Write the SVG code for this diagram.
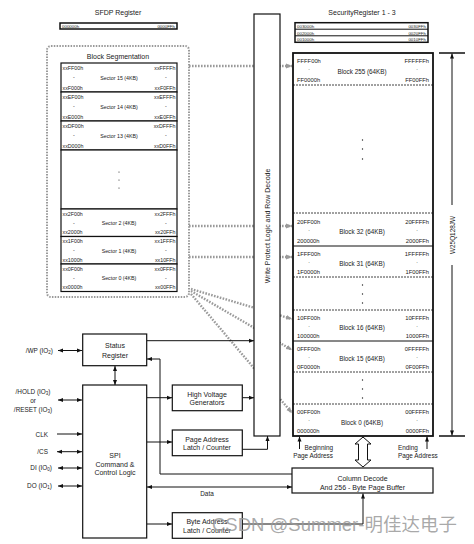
<svg xmlns="http://www.w3.org/2000/svg" width="474" height="544" viewBox="0 0 474 544">
<style>
text{font-family:"Liberation Sans",Arial,"Noto Sans CJK SC",sans-serif;fill:#1a1a1a}
.l7{font-size:7px}
.l65{font-size:6.4px}
.a{font-size:5.8px}
.bl{font-size:6.3px}
.s{font-size:5.3px}
.t{font-size:4.4px}
.m{text-anchor:middle}
.e{text-anchor:end}
.box{fill:#fff;stroke:#111;stroke-width:1.2}
.thk{fill:#fff;stroke:#111;stroke-width:1.8}
.ln{fill:none;stroke:#111;stroke-width:1}
.gd{fill:none;stroke:#9a9a9a;stroke-width:2.4;stroke-dasharray:1.6 1.4}
.dash{fill:none;stroke:#111;stroke-width:0.8;stroke-dasharray:2 1}
.dt{fill:#222}
</style>
<defs>
<marker id="ah" viewBox="0 0 10 10" refX="10" refY="5" markerWidth="6" markerHeight="5" markerUnits="userSpaceOnUse" orient="auto-start-reverse"><path d="M0,1 L10,5 L0,9 z" fill="#111"/></marker>
<marker id="gh" viewBox="0 0 10 10" refX="10" refY="5" markerWidth="6" markerHeight="6" markerUnits="userSpaceOnUse" orient="auto"><path d="M0,1 L10,5 L0,9 z" fill="#9a9a9a"/></marker>
</defs>

<g id="connectors">
<g id="dotted">
<path class="gd" d="M189,66 H292" marker-end="url(#gh)"/>
<path class="gd" d="M189,226 H292" marker-end="url(#gh)"/>
<path class="gd" d="M189,257 H292" marker-end="url(#gh)"/>
<path class="gd" d="M191,289 L292,319" marker-end="url(#gh)"/>
<path class="gd" d="M191,291 L292,350" marker-end="url(#gh)"/>
<path class="gd" d="M191,294 L292,413" marker-end="url(#gh)"/>
</g>
<g id="wires">
<path class="ln" d="M58,350.5 H82" marker-start="url(#ah)" marker-end="url(#ah)"/>
<path class="ln" d="M58,400 H82" marker-start="url(#ah)" marker-end="url(#ah)"/>
<path class="ln" d="M57,434 H82" marker-end="url(#ah)"/>
<path class="ln" d="M57,451.7 H82" marker-start="url(#ah)" marker-end="url(#ah)"/>
<path class="ln" d="M58,468 H82" marker-start="url(#ah)" marker-end="url(#ah)"/>
<path class="ln" d="M58,486 H82" marker-start="url(#ah)" marker-end="url(#ah)"/>
<path class="ln" d="M115,366 V385" marker-start="url(#ah)" marker-end="url(#ah)"/>
<path class="ln" d="M147,340.7 H254" marker-end="url(#ah)"/>
<path class="ln" d="M147,397.7 H172" marker-end="url(#ah)"/>
<path class="ln" d="M242,397.7 H254" marker-end="url(#ah)"/>
<path class="ln" d="M147,442 H172" marker-end="url(#ah)"/>
<path class="ln" d="M242,449.3 H267.5 V436" marker-end="url(#ah)"/>
<path class="ln" d="M292,474 H160 V359 H147" marker-end="url(#ah)"/>
<path class="ln" d="M147,487 H292" marker-start="url(#ah)" marker-end="url(#ah)"/>
<path class="ln" d="M147,524 H172" marker-end="url(#ah)"/>
<path class="ln" d="M242,524 H363 V493.5" marker-end="url(#ah)"/>
<path class="ln" d="M299.5,449 V436.5" marker-end="url(#ah)"/>
<path class="ln" d="M427,449 V436.5" marker-end="url(#ah)"/>
<path class="ln" d="M452,205 V53.5" marker-end="url(#ah)"/>
<path class="ln" d="M452,265 V435.5" marker-end="url(#ah)"/>
<path fill="none" stroke="#111" stroke-width="1.6" d="M439,53 H465 M439,436 H465"/>
<polygon points="363,437 371,444 367.5,444 367.5,460 371,460 363,467 355,460 358.5,460 358.5,444 355,444" fill="#fff" stroke="#111" stroke-width="1"/>
</g>
</g>

<g id="sfdp">
<text class="l7 m" x="118" y="14.5">SFDP Register</text>
<rect x="60" y="23" width="117" height="6" fill="#fff" stroke="#111" stroke-width="1.5"/>
<text class="t" x="62" y="27.8">000000h</text>
<text class="t e" x="175" y="27.8">0000FFh</text>
</g>

<g id="security">
<text class="l7 m" x="362" y="14.5">SecurityRegister 1 - 3</text>
<rect x="295" y="22.7" width="133" height="19.6" fill="#fff" stroke="#111" stroke-width="1.5"/>
<path stroke="#111" stroke-width="1" d="M295,29.2 H428 M295,35.8 H428"/>
<text class="t" x="297" y="28">003000h</text><text class="t e" x="426" y="28">0030FFh</text>
<text class="t" x="297" y="34.5">002000h</text><text class="t e" x="426" y="34.5">0020FFh</text>
<text class="t" x="297" y="41">001000h</text><text class="t e" x="426" y="41">0010FFh</text>
</g>

<g id="block-segmentation">
<rect x="47" y="46" width="142" height="251" rx="4" fill="none" stroke="#9a9a9a" stroke-width="2" stroke-dasharray="1.5 1.3"/>
<text class="l7 m" x="118" y="59">Block Segmentation</text>
<g id="sector15"><rect class="box" x="61" y="63" width="116" height="29"/>
<text class="s" x="62.5" y="69.5">xxFF00h</text><text class="s m" x="74" y="79">-</text><text class="s" x="62.5" y="89.5">xxF000h</text>
<text class="s m" x="119" y="80">Sector 15 (4KB)</text>
<text class="s e" x="175.5" y="69.5">xxFFFFh</text><text class="s m" x="166" y="79">-</text><text class="s e" x="175.5" y="89.5">xxF0FFh</text></g>
<g id="sector14"><rect class="box" x="61" y="92" width="116" height="29"/>
<text class="s" x="62.5" y="98.5">xxEF00h</text><text class="s m" x="74" y="108">-</text><text class="s" x="62.5" y="118.5">xxE000h</text>
<text class="s m" x="119" y="109">Sector 14 (4KB)</text>
<text class="s e" x="175.5" y="98.5">xxEFFFh</text><text class="s m" x="166" y="108">-</text><text class="s e" x="175.5" y="118.5">xxE0FFh</text></g>
<g id="sector13"><rect class="box" x="61" y="121" width="116" height="29"/>
<text class="s" x="62.5" y="127.5">xxDF00h</text><text class="s m" x="74" y="137">-</text><text class="s" x="62.5" y="147.5">xxD000h</text>
<text class="s m" x="119" y="138">Sector 13 (4KB)</text>
<text class="s e" x="175.5" y="127.5">xxDFFFh</text><text class="s m" x="166" y="137">-</text><text class="s e" x="175.5" y="147.5">xxD0FFh</text></g>
<g id="sector-gap"><rect class="box" x="61" y="150" width="116" height="59"/>
<circle class="dt" cx="119" cy="172" r="0.6"/><circle class="dt" cx="119" cy="180" r="0.6"/><circle class="dt" cx="119" cy="188" r="0.6"/></g>
<g id="sector2"><rect class="box" x="61" y="209" width="116" height="27.5"/>
<text class="s" x="62.5" y="215.5">xx2F00h</text><text class="s m" x="74" y="224.7">-</text><text class="s" x="62.5" y="234">xx2000h</text>
<text class="s m" x="119" y="225.2">Sector 2 (4KB)</text>
<text class="s e" x="175.5" y="215.5">xx2FFFh</text><text class="s m" x="166" y="224.7">-</text><text class="s e" x="175.5" y="234">xx20FFh</text></g>
<g id="sector1"><rect class="box" x="61" y="236.5" width="116" height="27.5"/>
<text class="s" x="62.5" y="243">xx1F00h</text><text class="s m" x="74" y="252.2">-</text><text class="s" x="62.5" y="261.5">xx1000h</text>
<text class="s m" x="119" y="252.7">Sector 1 (4KB)</text>
<text class="s e" x="175.5" y="243">xx1FFFh</text><text class="s m" x="166" y="252.2">-</text><text class="s e" x="175.5" y="261.5">xx10FFh</text></g>
<g id="sector0"><rect class="box" x="61" y="264" width="116" height="27.5"/>
<text class="s" x="62.5" y="270.5">xx0F00h</text><text class="s m" x="74" y="279.7">-</text><text class="s" x="62.5" y="289">xx0000h</text>
<text class="s m" x="119" y="280.2">Sector 0 (4KB)</text>
<text class="s e" x="175.5" y="270.5">xx0FFFh</text><text class="s m" x="166" y="279.7">-</text><text class="s e" x="175.5" y="289">xx00FFh</text></g>
</g>

<g id="write-protect">
<rect class="box" x="254" y="14" width="26" height="422" stroke-width="1"/>
<text class="l7 m" transform="translate(269.5,226) rotate(-90)">Write Protect Logic and Row Decode</text>
</g>

<g id="memory-array">
<rect class="thk" x="293" y="53" width="140" height="383"/>
<path class="dash" d="M293,85 H433 M293,213 H433 M293,277 H433 M293,310 H433 M293,372 H433 M293,404 H433"/>
<path stroke="#111" stroke-width="1" d="M293,246 H433 M293,341 H433"/>
<g id="block255"><text class="a" x="297" y="63">FFFF00h</text><text class="a m" x="309" y="70">.</text><text class="a" x="297" y="81.5">FF0000h</text>
<text class="bl m" x="362" y="73.5">Block 255 (64KB)</text>
<text class="a e" x="429" y="63">FFFFFFh</text><text class="a m" x="417" y="70">.</text><text class="a e" x="429" y="81.5">FF00FFh</text></g>
<circle class="dt" cx="362.5" cy="140" r="0.7"/><circle class="dt" cx="362.5" cy="149" r="0.7"/><circle class="dt" cx="362.5" cy="159" r="0.7"/>
<g id="block32"><text class="a" x="297" y="223.5">20FF00h</text><text class="a m" x="309" y="230.5">.</text><text class="a" x="297" y="242.5">200000h</text>
<text class="bl m" x="362" y="234">Block 32 (64KB)</text>
<text class="a e" x="429" y="223.5">20FFFFh</text><text class="a m" x="417" y="230.5">.</text><text class="a e" x="429" y="242.5">2000FFh</text></g>
<g id="block31"><text class="a" x="297" y="256">1FFF00h</text><text class="a m" x="309" y="262.5">.</text><text class="a" x="297" y="273.5">1F0000h</text>
<text class="bl m" x="362" y="266">Block 31 (64KB)</text>
<text class="a e" x="429" y="256">1FFFFFh</text><text class="a m" x="417" y="262.5">.</text><text class="a e" x="429" y="273.5">1F00FFh</text></g>
<circle class="dt" cx="362.5" cy="285" r="0.7"/><circle class="dt" cx="362.5" cy="294" r="0.7"/><circle class="dt" cx="362.5" cy="303" r="0.7"/>
<g id="block16"><text class="a" x="297" y="320">10FF00h</text><text class="a m" x="309" y="326.5">.</text><text class="a" x="297" y="337.5">100000h</text>
<text class="bl m" x="362" y="330">Block 16 (64KB)</text>
<text class="a e" x="429" y="320">10FFFFh</text><text class="a m" x="417" y="326.5">.</text><text class="a e" x="429" y="337.5">1000FFh</text></g>
<g id="block15"><text class="a" x="297" y="351">0FFF00h</text><text class="a m" x="309" y="357.5">.</text><text class="a" x="297" y="368.5">0F0000h</text>
<text class="bl m" x="362" y="361">Block 15 (64KB)</text>
<text class="a e" x="429" y="351">0FFFFFh</text><text class="a m" x="417" y="357.5">.</text><text class="a e" x="429" y="368.5">0F00FFh</text></g>
<circle class="dt" cx="362.5" cy="380" r="0.7"/><circle class="dt" cx="362.5" cy="389" r="0.7"/><circle class="dt" cx="362.5" cy="398" r="0.7"/>
<g id="block0"><text class="a" x="297" y="414">00FF00h</text><text class="a m" x="309" y="421">.</text><text class="a" x="297" y="432.5">000000h</text>
<text class="bl m" x="362" y="424.5">Block 0 (64KB)</text>
<text class="a e" x="429" y="414">00FFFFh</text><text class="a m" x="417" y="421">.</text><text class="a e" x="429" y="432.5">0000FFh</text></g>
</g>

<g id="device-label">
<text class="l65 m" transform="translate(454.5,235) rotate(-90)">W25Q128JW</text>
</g>

<g id="page-address-labels">
<text class="l65 e" x="333" y="449.5">Beginning</text>
<text class="l65 e" x="333" y="457.5">Page Address</text>
<text class="l65" x="398" y="449.5">Ending</text>
<text class="l65" x="398" y="457.5">Page Address</text>
</g>

<g id="signals">
<text class="l65 e" x="53" y="353">/WP (IO<tspan font-size="4.5" dy="1.2">2</tspan><tspan dy="-1.2">)</tspan></text>
<text class="l65 m" x="33" y="394">/HOLD (IO<tspan font-size="4.5" dy="1.2">3</tspan><tspan dy="-1.2">)</tspan></text>
<text class="l65 m" x="33" y="402.5">or</text>
<text class="l65 m" x="33" y="411.5">/RESET (IO<tspan font-size="4.5" dy="1.2">3</tspan><tspan dy="-1.2">)</tspan></text>
<text class="l65 e" x="48" y="436.5">CLK</text>
<text class="l65 e" x="48" y="454">/CS</text>
<text class="l65 e" x="52" y="470">DI (IO<tspan font-size="4.5" dy="1.2">0</tspan><tspan dy="-1.2">)</tspan></text>
<text class="l65 e" x="52" y="488">DO (IO<tspan font-size="4.5" dy="1.2">1</tspan><tspan dy="-1.2">)</tspan></text>
</g>

<g id="status-register">
<rect class="box" x="82.7" y="334" width="64" height="31.7"/>
<text class="l7 m" x="115" y="348">Status</text>
<text class="l7 m" x="115" y="358">Register</text>
</g>

<g id="spi-logic">
<rect class="box" x="82.7" y="385" width="64" height="153"/>
<text class="l7 m" x="115" y="457.5">SPI</text>
<text class="l7 m" x="115" y="466.5">Command &amp;</text>
<text class="l7 m" x="115" y="475">Control Logic</text>
</g>

<g id="high-voltage">
<rect class="box" x="172.3" y="385" width="70" height="25.7"/>
<text class="l7 m" x="207" y="396.5">High Voltage</text>
<text class="l7 m" x="207" y="405">Generators</text>
</g>

<g id="page-address-latch">
<rect class="box" x="172.3" y="430" width="70" height="25.7"/>
<text class="l7 m" x="207" y="441.5">Page Address</text>
<text class="l7 m" x="207" y="450">Latch / Counter</text>
</g>

<g id="byte-address-latch">
<rect class="box" x="172.3" y="512.7" width="70" height="25.6"/>
<text class="l7 m" x="207" y="524">Byte Address</text>
<text class="l7 m" x="207" y="533">Latch / Counter</text>
</g>

<g id="column-decode">
<rect class="box" x="292" y="468" width="141" height="25"/>
<text class="l7 m" x="362.5" y="480.5">Column Decode</text>
<text class="l7 m" x="362.5" y="490">And 256 - Byte Page Buffer</text>
</g>

<text class="l65 m" x="207" y="495.5">Data</text>

<text x="212" y="531" font-size="18.5" style="fill:#9a9a9a" fill-opacity="0.85">CSDN @Summer-明佳达电子</text>
</svg>
